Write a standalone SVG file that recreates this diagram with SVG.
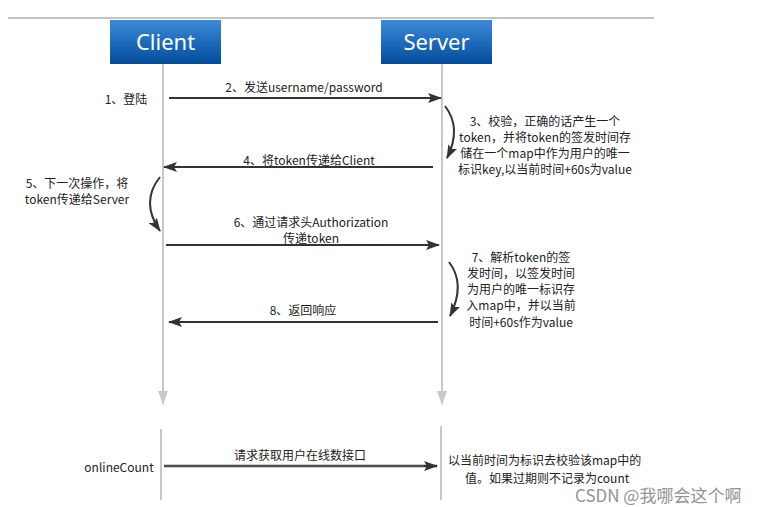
<svg xmlns="http://www.w3.org/2000/svg" width="783" height="507" viewBox="0 0 783 507">
<defs>
<linearGradient id="boxg" x1="0" y1="0" x2="0" y2="1">
<stop offset="0" stop-color="#3b8ad9"/>
<stop offset="1" stop-color="#034c9c"/>
</linearGradient>
<marker id="ah" viewBox="0 0 14 10" refX="13" refY="5" markerWidth="14" markerHeight="10" markerUnits="userSpaceOnUse" orient="auto">
<path d="M0,0 L14,5 L0,10 L3,5 Z" fill="#333"/>
</marker>
<marker id="gh" viewBox="0 0 14 10" refX="13" refY="5" markerWidth="14" markerHeight="10" markerUnits="userSpaceOnUse" orient="auto">
<path d="M0,0 L14,5 L0,10 Z" fill="#c8c8c8"/>
</marker>
</defs>
<style>
.t{font-family:"Noto Sans CJK SC","Microsoft YaHei",sans-serif;font-size:12px;fill:#222}
.h{font-family:"Noto Sans","Open Sans",sans-serif;font-size:22px;fill:#fff}
.ln{stroke:#333;stroke-width:2;fill:none}
.life{stroke:#c8c8c8;stroke-width:2;fill:none}
.cv{stroke:#333;stroke-width:2;fill:none}
</style>
<rect width="783" height="507" fill="#fff"/>
<line x1="8" y1="18" x2="654" y2="18" stroke="#b0b0b0" stroke-width="1.5"/>

<g id="client">
<rect x="110" y="20" width="111" height="44" fill="url(#boxg)"/>
<text class="h" x="165.5" y="50" text-anchor="middle">Client</text>
</g>
<g id="server">
<rect x="381" y="20" width="111" height="44" fill="url(#boxg)"/>
<text class="h" x="436.5" y="50" text-anchor="middle">Server</text>
</g>

<g id="lifelines">
<line class="life" x1="163" y1="64" x2="163" y2="404" marker-end="url(#gh)"/>
<line class="life" x1="442" y1="64" x2="442" y2="404" marker-end="url(#gh)"/>
<line class="life" x1="161" y1="429" x2="161" y2="500"/>
<line class="life" x1="441" y1="426" x2="441" y2="500"/>
</g>

<g id="connectors">
<line class="ln" x1="169" y1="98" x2="441" y2="98" marker-end="url(#ah)"/>
<line class="ln" x1="433" y1="167" x2="164" y2="167" marker-end="url(#ah)"/>
<line class="ln" x1="166" y1="245" x2="439" y2="245" marker-end="url(#ah)"/>
<line class="ln" x1="438" y1="322" x2="169" y2="322" marker-end="url(#ah)"/>
<line x1="164" y1="466" x2="437" y2="466" stroke="#333" stroke-width="2.5" marker-end="url(#ah)"/>
<line x1="164" y1="466" x2="424" y2="466" stroke="#999" stroke-width="0.6"/>
<path class="cv" d="M445,106 Q462,128 447,158" marker-end="url(#ah)"/>
<path class="cv" d="M160,177 Q140,202 160,231" marker-end="url(#ah)"/>
<path class="cv" d="M449,262 Q466,284 450,316" marker-end="url(#ah)"/>
</g>

<g id="labels">
<text class="t" x="126" y="104" text-anchor="middle">1、登陆</text>
<text class="t" x="304" y="92" text-anchor="middle">2、发送username/password</text>
<text class="t" x="545" y="126" text-anchor="middle">3、校验，正确的话产生一个</text>
<text class="t" x="545" y="142" text-anchor="middle">token，并将token的签发时间存</text>
<text class="t" x="545" y="158" text-anchor="middle">储在一个map中作为用户的唯一</text>
<text class="t" x="545" y="174" text-anchor="middle">标识key,以当前时间+60s为value</text>
<text class="t" x="309" y="165" text-anchor="middle">4、将token传递给Client</text>
<text class="t" x="77" y="188" text-anchor="middle">5、下一次操作，将</text>
<text class="t" x="77" y="204" text-anchor="middle">token传递给Server</text>
<text class="t" x="311" y="227" text-anchor="middle">6、通过请求头Authorization</text>
<text class="t" x="311" y="243" text-anchor="middle">传递token</text>
<text class="t" x="521" y="262" text-anchor="middle">7、解析token的签</text>
<text class="t" x="521" y="278" text-anchor="middle">发时间，以签发时间</text>
<text class="t" x="521" y="294" text-anchor="middle">为用户的唯一标识存</text>
<text class="t" x="521" y="310" text-anchor="middle">入map中，并以当前</text>
<text class="t" x="521" y="327" text-anchor="middle">时间+60s作为value</text>
<text class="t" x="303" y="315" text-anchor="middle">8、返回响应</text>
<text class="t" x="119" y="472" text-anchor="middle">onlineCount</text>
<text class="t" x="300" y="460" text-anchor="middle">请求获取用户在线数接口</text>
<text class="t" x="448" y="465">以当前时间为标识去校验该map中的</text>
<text class="t" x="465" y="483">值。如果过期则不记录为count</text>
</g>
<text x="575" y="502" font-family="Noto Sans CJK SC,sans-serif" font-size="17" fill="#888" opacity="0.9">CSDN @我哪会这个啊</text>
</svg>
